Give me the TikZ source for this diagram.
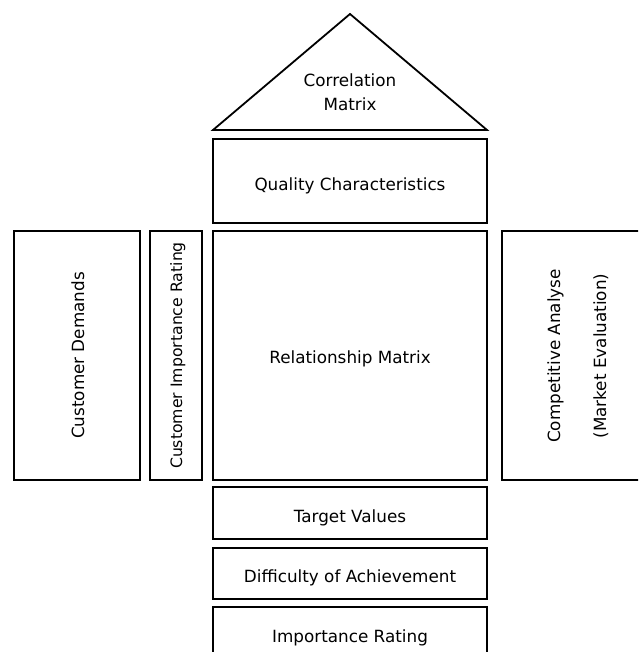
\documentclass[tikz,border=0pt]{standalone}
\usepackage{fontspec}
\setmainfont{DejaVu Sans}
\begin{document}
\begin{tikzpicture}[x=1pt,y=-1pt,
  box/.style={draw=black,line width=1.8pt,fill=white,inner sep=0pt},
  lbl/.style={inner sep=0pt,anchor=base,font=\fontsize{16.8}{21}\selectfont},
  vlbl/.style={lbl,rotate=90}]
\useasboundingbox (0,0) rectangle (638,652);
\clip (0,0) rectangle (638,652);
% roof
\coordinate (apex) at (350,14);
\coordinate (bl) at (213,130);
\coordinate (br) at (487,130);
\draw[line width=1.8pt,line join=miter] (bl) -- (apex) -- (br) -- cycle;
\node[lbl] (corr1) at (350,87) {Correlation};
\node[lbl] (corr2) at (350,111) {Matrix};
% boxes
\node[box,minimum width=274pt,minimum height=84pt] (qc) at (350,181) {};
\node[lbl] (qct) at (350,190) {Quality Characteristics};
\node[box,minimum width=274pt,minimum height=249pt] (rm) at (350,355.5) {};
\node[lbl] (rmt) at (350,363) {Relationship Matrix};
\node[box,minimum width=126pt,minimum height=249pt] (cd) at (77,355.5) {};
\node[vlbl] (cdt) at (84,355.5) {Customer Demands};
\node[box,minimum width=51.5pt,minimum height=249pt] (cir) at (176,355.5) {};
\node[vlbl,font=\fontsize{15.7}{20}\selectfont] (cirt) at (182,355.5) {Customer Importance Rating};
\node[box,minimum width=200pt,minimum height=249pt] (ca) at (602,355.5) {};
\node[vlbl] (cat1) at (560,356) {Competitive Analyse};
\node[vlbl] (cat2) at (606,356) {(Market Evaluation)};
\node[box,minimum width=274pt,minimum height=52pt] (tv) at (350,513) {};
\node[lbl] (tvt) at (350,522) {Target Values};
\node[box,minimum width=274pt,minimum height=51.5pt] (da) at (350,573.5) {};
\node[lbl] (dat) at (350,582) {Difficulty of Achievement};
\node[box,minimum width=274pt,minimum height=80pt] (ir) at (350,647) {};
\node[lbl] (irt) at (350,642) {Importance Rating};
\end{tikzpicture}
\end{document}
